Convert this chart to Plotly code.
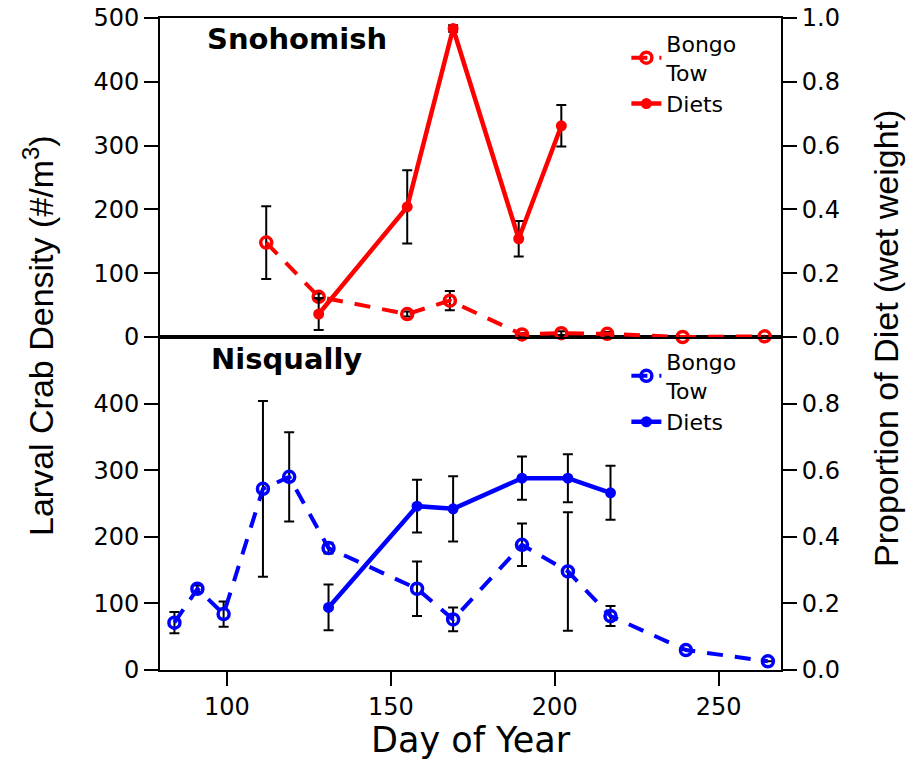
import plotly.graph_objects as go

# ---------------- data ----------------
# Snohomish (top panel)
sno_tow_day = [112, 128, 155, 168, 190, 202, 216, 239, 264]
sno_tow_density = [148, 63, 36, 57, 4, 6, 5, 0, 1]
sno_tow_err = [57, 5, 4, 15, 2, 3, 3, 0, 0]

sno_diet_day = [128, 155, 169, 189, 202]
sno_diet_prop = [0.072, 0.408, 0.967, 0.308, 0.662]
sno_diet_err = [0.05, 0.115, 0.01, 0.056, 0.065]

# Nisqually (bottom panel)
nis_tow_day = [84, 91, 99, 111, 119, 131, 158, 169, 190, 204, 217, 240, 265]
nis_tow_density = [71, 122, 84, 272, 290, 183, 122, 76, 188, 148, 81, 30, 13]
nis_tow_err = [16, 5, 19, 132, 67, 8, 41, 18, 32, 89, 15, 0, 0]

nis_diet_day = [131, 158, 169, 190, 204, 217]
nis_diet_prop = [0.188, 0.492, 0.484, 0.576, 0.576, 0.532]
nis_diet_err = [0.069, 0.079, 0.098, 0.065, 0.072, 0.081]

left_ticks_top = [0, 100, 200, 300, 400, 500]
left_ticks_bottom = [0, 100, 200, 300, 400]
right_ticks_top = [0.0, 0.2, 0.4, 0.6, 0.8, 1.0]
right_ticks_bottom = [0.0, 0.2, 0.4, 0.6, 0.8]
x_ticks = [100, 150, 200, 250]

RED = "#FF0000"
BLUE = "#0000FF"
TICKFONT = dict(family="DejaVu Sans", size=24, color="black")
DASH = "16px,12px"

err_style = dict(type="data", visible=True, color="black", thickness=2, width=5)

fig = go.Figure()

def tow_trace(x, y, e, color, xa, ya, leg):
    return go.Scatter(
        x=x, y=y, mode="lines+markers", name="Bongo<br>Tow",
        xaxis=xa, yaxis=ya, legend=leg, cliponaxis=False,
        line=dict(color=color, width=4, dash=DASH),
        marker=dict(symbol="circle-open", size=11, color=color,
                    line=dict(color=color, width=3.5)),
        error_y=dict(array=e, **err_style),
    )

def diet_trace(x, y, e, color, xa, ya, leg):
    return go.Scatter(
        x=x, y=y, mode="lines+markers", name="Diets",
        xaxis=xa, yaxis=ya, legend=leg, cliponaxis=False,
        line=dict(color=color, width=4.5),
        marker=dict(symbol="circle", size=11, color=color),
        error_y=dict(array=e, **err_style),
    )

fig.add_trace(tow_trace(sno_tow_day, sno_tow_density, sno_tow_err, RED, "x2", "y", "legend"))
fig.add_trace(diet_trace(sno_diet_day, sno_diet_prop, sno_diet_err, RED, "x2", "y2", "legend"))
fig.add_trace(tow_trace(nis_tow_day, nis_tow_density, nis_tow_err, BLUE, "x", "y3", "legend2"))
fig.add_trace(diet_trace(nis_diet_day, nis_diet_prop, nis_diet_err, BLUE, "x", "y4", "legend2"))

d = 333 / 652
xr = [79.6, 269.0]

axis_common = dict(showline=True, linecolor="black", linewidth=2, showgrid=False,
                   zeroline=False, ticks="outside", ticklen=14, tickwidth=2,
                   tickcolor="black", tickfont=TICKFONT, automargin=False,
                   ticklabeloverflow="allow")

fig.update_layout(
    width=908, height=761, autosize=False,
    margin=dict(l=160, r=127, t=18, b=91, pad=0),
    paper_bgcolor="white", plot_bgcolor="white",
    xaxis=dict(domain=[0, 1], range=xr, anchor="y3", mirror=True,
               tickvals=x_ticks, **axis_common),
    xaxis2=dict(domain=[0, 1], range=xr, anchor="y", showline=True, mirror=True,
                linecolor="black", linewidth=2, showgrid=False, zeroline=False,
                showticklabels=False, ticks="", automargin=False),
    yaxis=dict(domain=[d, 1], range=[0, 500], anchor="x2",
               tickvals=left_ticks_top, **axis_common),
    yaxis2=dict(overlaying="y", side="right", range=[0, 1], anchor="x2",
                tickvals=right_ticks_top, tickformat=".1f", **axis_common),
    yaxis3=dict(domain=[0, d], range=[0, 500], anchor="x",
                tickvals=left_ticks_bottom, **axis_common),
    yaxis4=dict(overlaying="y3", side="right", range=[0, 1], anchor="x",
                tickvals=right_ticks_bottom, tickformat=".1f", **axis_common),
    legend=dict(x=0.751, y=0.993, xanchor="left", yanchor="top",
                bgcolor="rgba(0,0,0,0)", font=dict(family="DejaVu Sans", size=22, color="black"),
                tracegroupgap=0, itemwidth=30),
    legend2=dict(x=0.751, y=0.505, xanchor="left", yanchor="top",
                 bgcolor="rgba(0,0,0,0)", font=dict(family="DejaVu Sans", size=22, color="black"),
                 tracegroupgap=0, itemwidth=30),
    showlegend=True,
)

annotations = [
    dict(text="<b>Snohomish</b>", xref="paper", yref="paper", x=(205 - 160) / 621,
         y=1 - (39 - 18) / 652, xanchor="left", yanchor="middle", showarrow=False,
         font=dict(family="DejaVu Sans", size=29, color="black")),
    dict(text="<b>Nisqually</b>", xref="paper", yref="paper", x=(209 - 160) / 621,
         y=1 - (359 - 18) / 652, xanchor="left", yanchor="middle", showarrow=False,
         font=dict(family="DejaVu Sans", size=29, color="black")),
    dict(text="Larval Crab Density (#/m<sup>3</sup>)", xref="paper", yref="paper",
         x=(38 - 160) / 621, y=1 - (336 - 18) / 652, xanchor="center", yanchor="middle",
         textangle=-90, showarrow=False,
         font=dict(family="Liberation Sans", size=34, color="black")),
    dict(text="Proportion of Diet (wet weight)", xref="paper", yref="paper",
         x=(886 - 160) / 621, y=1 - (339 - 18) / 652, xanchor="center", yanchor="middle",
         textangle=-90, showarrow=False,
         font=dict(family="Liberation Sans", size=34, color="black")),
    dict(text="Day of Year", xref="paper", yref="paper",
         x=0.5, y=-(740 - 670) / 652, xanchor="center", yanchor="middle",
         showarrow=False,
         font=dict(family="DejaVu Sans", size=35, color="black")),
]
fig.update_layout(annotations=annotations)

# remove the default page margin so the figure fills the window exactly
fig.write_html("out.html", config={"displayModeBar": False},
               post_script="document.body.style.margin='0';")
